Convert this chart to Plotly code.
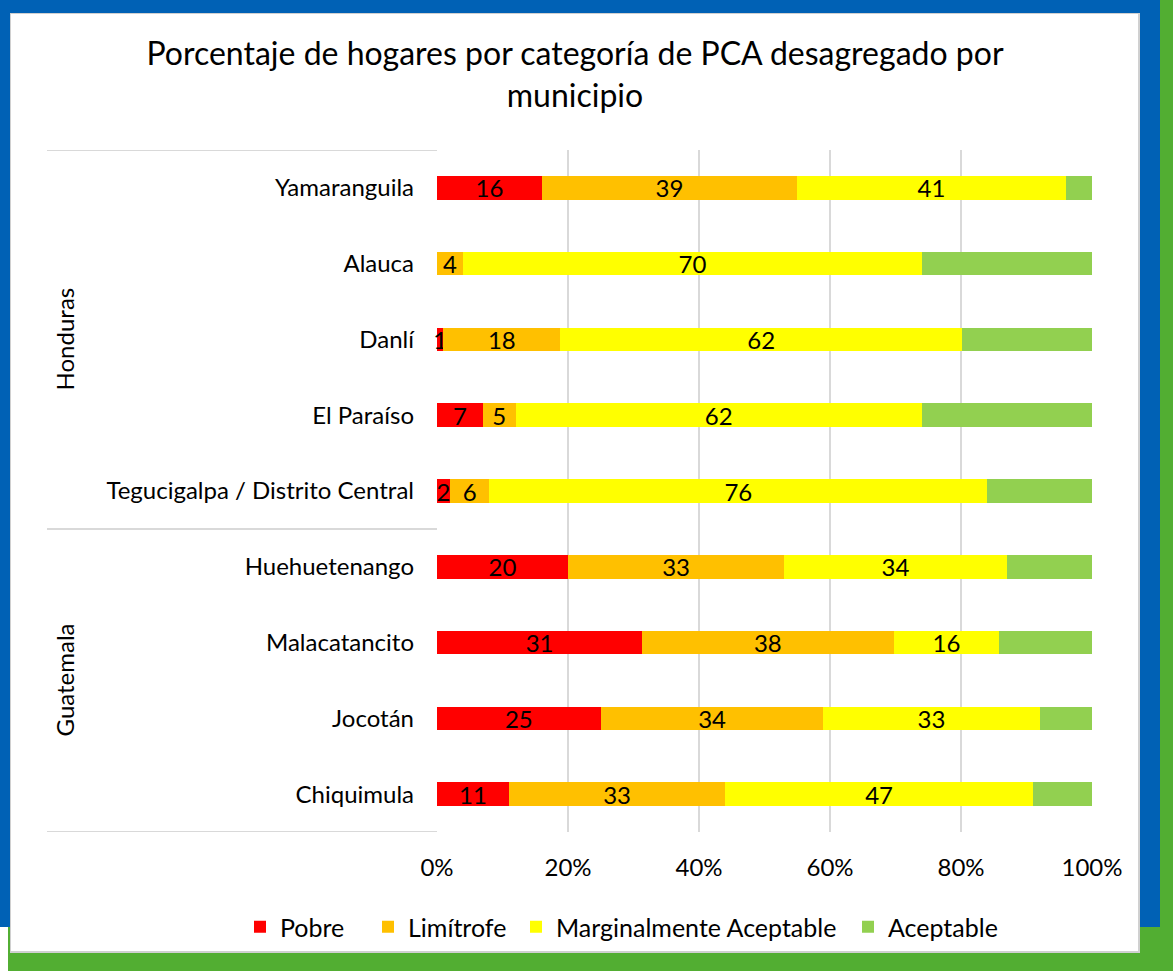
import plotly.graph_objects as go

# ---- data ----
municipios = ["Yamaranguila", "Alauca", "Danlí", "El Paraíso",
              "Tegucigalpa / Distrito Central",
              "Huehuetenango", "Malacatancito", "Jocotán", "Chiquimula"]
paises = ["Honduras", "Guatemala"]
series_names = ["Pobre", "Limítrofe", "Marginalmente Aceptable", "Aceptable"]
pobre = [16, 0, 1, 7, 2, 20, 31, 25, 11]
limitrofe = [39, 4, 18, 5, 6, 33, 38, 34, 33]
marginal = [41, 70, 62, 62, 76, 34, 16, 33, 47]
aceptable = [4, 26, 20, 26, 16, 13, 14, 8, 9]
x_ticks = [0, 20, 40, 60, 80, 100]
x_tick_labels = ["0%", "20%", "40%", "60%", "80%", "100%"]

colors = ["#FF0000", "#FFC000", "#FFFF00", "#92D050"]
show_labels = [True, True, True, False]

W, H = 1173, 971
ML, MR, MT, MB = 437, 81, 150, 139
PW = W - ML - MR
PH = H - MT - MB


def px(xp):
    return (xp - ML) / PW


def py(yp):
    return (H - MB - yp) / PH


FONT = "Lato, 'Open Sans', sans-serif"
FS = 24
legend_ids = ["legend", "legend2", "legend3", "legend4"]
legend_left_px = [240, 368, 516, 848]

fig = go.Figure()
for name, vals, col, lab, lid in zip(series_names, [pobre, limitrofe, marginal, aceptable],
                                     colors, show_labels, legend_ids):
    fig.add_trace(go.Bar(
        y=municipios, x=vals, name=name, orientation="h",
        marker=dict(color=col, line=dict(width=0)),
        text=[str(v) for v in vals] if lab else None,
        textposition="inside" if lab else "none",
        insidetextanchor="middle",
        textangle=0,
        textfont=dict(color="black", size=FS, family=FONT),
        cliponaxis=False,
        hoverinfo="x+y+name",
        legend=lid,
    ))

shapes = [
    dict(type="rect", xref="paper", yref="paper", x0=px(8), x1=px(W + 5), y0=py(H + 5), y1=py(-5),
         fillcolor="#52AE32", line=dict(width=0), layer="below"),
    dict(type="rect", xref="paper", yref="paper", x0=px(-5), x1=px(1160), y0=py(927), y1=py(-5),
         fillcolor="#0061B5", line=dict(width=0), layer="below"),
    dict(type="rect", xref="paper", yref="paper", x0=px(10), x1=px(1140), y0=py(953), y1=py(13),
         fillcolor="#D0D0D0", line=dict(width=0), layer="below"),
    dict(type="rect", xref="paper", yref="paper", x0=px(11), x1=px(1138), y0=py(951), y1=py(14),
         fillcolor="white", line=dict(width=0), layer="below"),
]
# group divider lines
for yv in [-0.5, 4.5, 8.5]:
    shapes.append(dict(type="line", xref="paper", yref="y", x0=px(47), x1=0, y0=yv, y1=yv,
                       line=dict(color="#D9D9D9", width=2), layer="above"))

annotations = [
    dict(text=paises[0], xref="paper", yref="y", x=px(64), y=2, textangle=-90,
         showarrow=False, font=dict(size=FS, family=FONT, color="black"), xanchor="center", yanchor="middle"),
    dict(text=paises[1], xref="paper", yref="y", x=px(64), y=6.5, textangle=-90,
         showarrow=False, font=dict(size=FS, family=FONT, color="black"), xanchor="center", yanchor="middle"),
]

legend_layout = {}
for lid, lx in zip(legend_ids, legend_left_px):
    legend_layout[lid] = dict(orientation="h", xref="paper", x=px(lx), xanchor="left",
                              yref="paper", y=py(927), yanchor="middle",
                              font=dict(size=25, family=FONT, color="black"),
                              bgcolor="rgba(0,0,0,0)", itemwidth=30)

fig.update_layout(
    width=W, height=H,
    margin=dict(l=ML, r=MR, t=MT, b=MB, pad=0, autoexpand=False),
    barmode="stack", barnorm="percent", bargap=0.69,
    paper_bgcolor="white", plot_bgcolor="rgba(0,0,0,0)",
    title=dict(text="Porcentaje de hogares por categoría de PCA desagregado por<br>municipio",
               x=575 / W, xanchor="center", xref="container", y=1 - 65 / H, yanchor="middle",
               yref="container",
               font=dict(size=32, family=FONT, color="black")),
    font=dict(family=FONT, color="black"),
    showlegend=True,
    uniformtext=dict(minsize=FS, mode="show"),
    shapes=shapes,
    annotations=annotations,
    xaxis=dict(range=[0, 100], tickvals=x_ticks, ticktext=x_tick_labels,
               showgrid=True, gridcolor="#D9D9D9", gridwidth=2, zeroline=False,
               showline=False, ticks="", ticklabelstandoff=19,
               tickfont=dict(size=FS, family=FONT, color="black"), fixedrange=True),
    yaxis=dict(categoryorder="array", categoryarray=municipios, range=[8.5, -0.5],
               showgrid=False, zeroline=False, showline=False, ticks="",
               ticklabelstandoff=22,
               tickfont=dict(size=FS, family=FONT, color="black"), fixedrange=True),
    **legend_layout,
)

fig.write_html("out.html", config={"displayModeBar": False},
               post_script="document.body.style.margin='0';")
